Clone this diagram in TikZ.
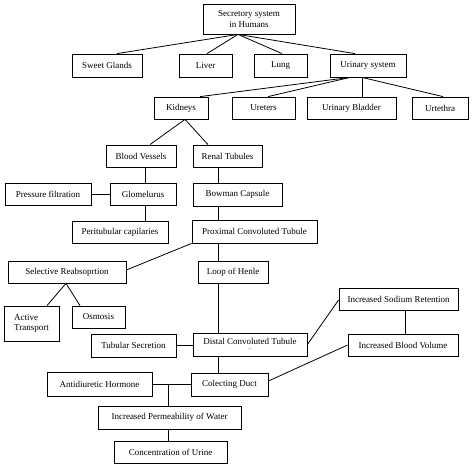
\documentclass[tikz,border=0pt]{standalone}
\usepackage{fontspec}
\setmainfont{Liberation Serif}
\usetikzlibrary{calc}
\begin{document}
\begin{tikzpicture}[x=1pt,y=-1pt,
  box/.style={draw, line width=0.8pt, inner sep=0pt, font=\fontsize{9}{10.5}\selectfont, align=center},
  conn/.style={line width=0.8pt}]
\useasboundingbox (0,0) rectangle (474,469);
% boxes
\node[box, minimum width=92pt, minimum height=30pt] (sec) at (249,19) {Secretory system\\in Humans};
\node[box, minimum width=70pt, minimum height=23pt] (sweet) at (107,65.5) {Sweet Glands};
\node[box, minimum width=53pt, minimum height=23pt] (liver) at (205.5,65.5) {Liver};
\node[box, minimum width=53pt, minimum height=23pt] (lung) at (280.5,65.5) {Lung};
\node[box, minimum width=76pt, minimum height=23pt] (urin) at (368,65.5) {Urinary system};
\node[box, minimum width=54pt, minimum height=22pt] (kid) at (181,108) {Kidneys};
\node[box, minimum width=63pt, minimum height=22pt] (uret) at (263.5,108) {Ureters};
\node[box, minimum width=89pt, minimum height=22pt] (blad) at (351.5,108) {Urinary Bladder};
\node[box, minimum width=56pt, minimum height=22pt] (ureth) at (440,108) {Urtethra};
\node[box, minimum width=70pt, minimum height=22pt] (bv) at (141,156) {Blood Vessels};
\node[box, minimum width=69pt, minimum height=22pt] (rt) at (227.5,156) {Renal Tubules};
\node[box, minimum width=66pt, minimum height=22pt] (glom) at (143,194) {Glomelurus};
\node[box, minimum width=86pt, minimum height=22pt] (pf) at (48,194) {Pressure filtration};
\node[box, minimum width=89pt, minimum height=23pt] (bow) at (237.5,194.5) {Bowman Capsule};
\node[box, minimum width=96pt, minimum height=22pt] (peri) at (120,232) {Peritubular capilaries};
\node[box, minimum width=125pt, minimum height=23pt] (pct) at (254.5,231.5) {Proximal Convoluted Tubule};
\node[box, minimum width=118pt, minimum height=22pt] (sel) at (67,272) {Selective Reabsoprtion};
\node[box, minimum width=70pt, minimum height=22pt] (loop) at (233,272) {Loop of Henle};
\node[box, minimum width=55pt, minimum height=35pt, align=left] (act) at (31.5,323.5) {Active\\Transport};
\node[box, minimum width=53pt, minimum height=22pt] (osm) at (98.5,317) {Osmosis};
\node[box, minimum width=119pt, minimum height=22pt] (sod) at (398.5,299) {Increased Sodium Retention};
\node[box, minimum width=85pt, minimum height=23pt] (tub) at (133.5,345.5) {Tubular Secretion};
\node[box, minimum width=114pt, minimum height=23pt] (dct) at (250,344.5) {Distal Convoluted Tubule\\[-5pt]{\tiny --}};
\node[box, minimum width=110pt, minimum height=22pt] (blv) at (403,345) {Increased Blood Volume};
\node[box, minimum width=77pt, minimum height=23pt] (col) at (229.5,384.5) {Colecting Duct};
\node[box, minimum width=105pt, minimum height=24pt] (adh) at (99.5,384) {Antidiuretic Hormone};
\node[box, minimum width=143pt, minimum height=23pt] (perm) at (169.5,417.5) {Increased Permeability of Water};
\node[box, minimum width=113pt, minimum height=22pt] (conc) at (170.5,452) {Concentration of Urine};
% connectors
\coordinate (sechub) at ($(sec.south)+(-11,0)$);
\draw[conn] (sechub) -- ($(sweet.north)+(10,0)$);
\draw[conn] (sechub) -- ($(liver.north)+(1.5,0)$);
\draw[conn] (sechub) -- ($(lung.north)+(1.5,0)$);
\draw[conn] (sechub) -- ($(urin.north)+(-13,0)$);
\coordinate (urhubA) at ($(urin.south)+(-18,0)$);
\coordinate (urhubB) at ($(urin.south)+(-6,0)$);
\draw[conn] (urhubA) -- ($(kid.north)+(19,0)$);
\draw[conn] (urhubA) -- ($(uret.north)+(4.5,0)$);
\draw[conn] (urhubB) -- (urhubB |- blad.north);
\draw[conn] (urhubB) -- ($(ureth.north)+(3,0)$);
\coordinate (kidhub) at ($(kid.south)+(4,0)$);
\draw[conn] (kidhub) -- ($(bv.north)+(9,0)$);
\draw[conn] (kidhub) -- ($(rt.north)+(-19.5,0)$);
\draw[conn] ($(bv.south)+(4,0)$) -- ($(glom.north)+(2,0)$);
\draw[conn] (pf.east) -- (glom.west);
\draw[conn] ($(glom.south)+(2,0)$) -- ($(peri.north)+(25,0)$);
\draw[conn] ($(rt.south)+(-9.5,0)$) -- ($(bow.north)+(-19.5,0)$);
\draw[conn] ($(bow.south)+(-19.5,0)$) -- ($(pct.north)+(-36.5,0)$);
\draw[conn] (pct.south west) -- ($(sel.east)+(0,-2)$);
\draw[conn] ($(pct.south)+(-36.5,0)$) -- ($(loop.north)+(-15,0)$);
\coordinate (selhub) at ($(sel.south)+(-1,0)$);
\draw[conn] (selhub) -- ($(act.north)+(15.5,0)$);
\draw[conn] (selhub) -- ($(osm.north)+(-18.5,0)$);
\draw[conn] ($(loop.south)+(-15,0)$) -- ($(dct.north)+(-32,0)$);
\draw[conn] (tub.east) -- (tub.east -| dct.west);
\draw[conn] (dct.east) -- ($(sod.west)+(0,1)$);
\draw[conn] ($(sod.south)+(6.5,0)$) -- ($(blv.north)+(2,0)$);
\draw[conn] ($(dct.south)+(-32,0)$) -- ($(col.north)+(-11.5,0)$);
\draw[conn] (blv.west) -- ($(col.east)+(0,-3.5)$);
\draw[conn] (adh.east) -- (adh.east -| col.west);
\coordinate (adhj) at ($(adh.east)+(16,0)$);
\draw[conn] (adhj) -- (adhj |- perm.north);
\draw[conn] ($(perm.south)+(-1.5,0)$) -- ($(conc.north)+(-2.5,0)$);
\end{tikzpicture}
\end{document}
